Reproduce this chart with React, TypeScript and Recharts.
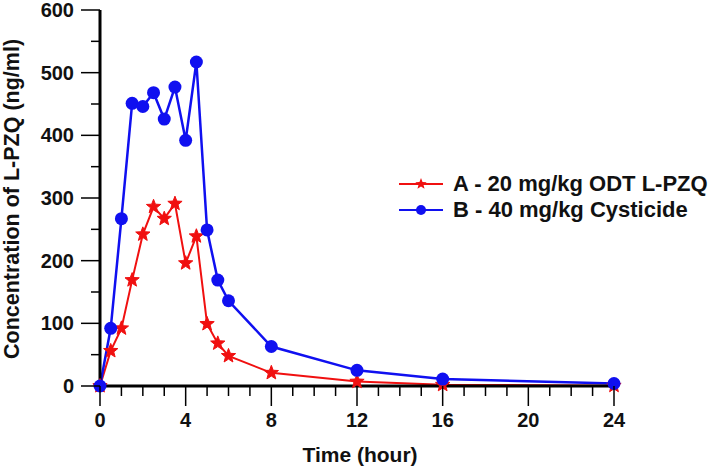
import { LineChart, Line, XAxis, YAxis, Legend } from "recharts";

const TIME = [0, 0.5, 1, 1.5, 2, 2.5, 3, 3.5, 4, 4.5, 5, 5.5, 6, 8, 12, 16, 24];
const ODT_A = [0, 56, 92, 169, 242, 286, 267, 291, 196, 239, 99, 68, 48, 21, 7, 2, 0.5];
const CYST_B = [0, 92, 267, 451, 446, 468, 426, 477, 392, 517, 249, 169, 136, 63, 25, 11, 4];

const X_TICKS = [0, 1, 2, 3, 4, 5, 6, 7, 8, 9, 10, 11, 12, 13, 14, 15, 16, 17, 18, 19, 20, 21, 22, 23, 24];
const X_LABELS = [0, 4, 8, 12, 16, 20, 24];
const Y_TICKS = [0, 50, 100, 150, 200, 250, 300, 350, 400, 450, 500, 550, 600];
const Y_LABELS = [0, 100, 200, 300, 400, 500, 600];

const NAME_A = "A - 20 mg/kg ODT L-PZQ";
const NAME_B = "B - 40 mg/kg Cysticide";

const RED = "#f01010";
const BLUE = "#1010f0";
const FONT = "'Liberation Sans', Arial, sans-serif";

const data = TIME.map((t, i) => ({ t, a: ODT_A[i], b: CYST_B[i] }));

function starPath(cx: number, cy: number, ro: number, ri: number) {
  let d = "";
  for (let k = 0; k < 10; k++) {
    const r = k % 2 === 0 ? ro : ri;
    const ang = -Math.PI / 2 + (k * Math.PI) / 5;
    d += (k === 0 ? "M" : "L") + (cx + r * Math.cos(ang)).toFixed(2) + "," + (cy + r * Math.sin(ang)).toFixed(2);
  }
  return d + "Z";
}

const StarDot = (p: any) => {
  if (p.cx == null || p.cy == null) return <g key={`s-${p.index}`} />;
  return <path key={`s-${p.index}`} d={starPath(p.cx, p.cy, 7.5, 3.2)} fill={RED} stroke={RED} strokeWidth={1} />;
};

const XTick = (p: any) => {
  const { x, y, payload } = p;
  const major = X_LABELS.includes(payload.value);
  return (
    <g>
      <line x1={x} x2={x} y1={y} y2={y + (major ? 20 : 10)} stroke="#000" strokeWidth={1.5} />
      {major && (
        <text x={x} y={y + 41} textAnchor="middle" fontSize={20} fontWeight="bold" fontFamily={FONT} fill="#111">
          {payload.value}
        </text>
      )}
    </g>
  );
};

const YTick = (p: any) => {
  const { x, y, payload } = p;
  const major = Y_LABELS.includes(payload.value);
  return (
    <g>
      <line x1={x} x2={x - (major ? 19 : 9)} y1={y} y2={y} stroke="#000" strokeWidth={1.5} />
      {major && (
        <text x={x - 26} y={y + 7} textAnchor="end" fontSize={20} fontWeight="bold" fontFamily={FONT} fill="#111">
          {payload.value}
        </text>
      )}
    </g>
  );
};

const renderLegend = () => {
  const rows = [
    { name: NAME_A, color: RED, star: true },
    { name: NAME_B, color: BLUE, star: false },
  ];
  return (
    <div>
      {rows.map((r) => (
        <div key={r.name} style={{ display: "flex", alignItems: "center", height: 26 }}>
          <svg width={44} height={20} style={{ marginRight: 10 }}>
            <line x1={0} x2={44} y1={10} y2={10} stroke={r.color} strokeWidth={2} />
            {r.star ? (
              <path d={starPath(22, 10, 6, 2.6)} fill={r.color} />
            ) : (
              <circle cx={22} cy={10} r={5} fill={r.color} />
            )}
          </svg>
          <span style={{ fontFamily: FONT, fontWeight: "bold", fontSize: 22, color: "#111", whiteSpace: "nowrap" }}>
            {r.name}
          </span>
        </div>
      ))}
    </div>
  );
};

export default function App() {
  return (
    <div style={{ position: "absolute", left: 0, top: 0, background: "#fff" }}>
      <LineChart width={709} height={468} data={data} margin={{ top: 10, right: 95, left: 0, bottom: 0 }}>
        <XAxis
          dataKey="t"
          type="number"
          domain={[0, 24]}
          ticks={X_TICKS}
          interval={0}
          tickSize={0}
          tickMargin={0}
          tickLine={false}
          tick={<XTick />}
          height={82}
          axisLine={{ stroke: "#000", strokeWidth: 3 }}
          label={{
            content: () => (
              <text x={360} y={462} textAnchor="middle" fontSize={21} fontWeight="bold" fontFamily={FONT} fill="#111">
                Time (hour)
              </text>
            ),
          }}
        />
        <YAxis
          type="number"
          domain={[0, 600]}
          ticks={Y_TICKS}
          interval={0}
          tickSize={0}
          tickMargin={0}
          tickLine={false}
          tick={<YTick />}
          width={100}
          axisLine={{ stroke: "#000", strokeWidth: 3 }}
          label={{
            content: () => (
              <text
                transform="translate(19,199) rotate(-90)"
                textAnchor="middle"
                fontSize={21.5}
                fontWeight="bold"
                fontFamily={FONT}
                fill="#111"
              >
                Concentration of L-PZQ (ng/ml)
              </text>
            ),
          }}
        />
        <Legend
          layout="vertical"
          align="center"
          verticalAlign="middle"
          content={renderLegend}
          wrapperStyle={{ left: 399, top: 171, width: 320 }}
        />
        <Line
          dataKey="a"
          name={NAME_A}
          stroke={RED}
          strokeWidth={2}
          dot={(p: any) => <StarDot key={`a-${p.index}`} {...p} />}
          isAnimationActive={false}
        />
        <Line
          dataKey="b"
          name={NAME_B}
          stroke={BLUE}
          strokeWidth={2.5}
          dot={{ r: 6.5, fill: BLUE, stroke: BLUE, strokeWidth: 0 }}
          isAnimationActive={false}
        />
      </LineChart>
    </div>
  );
}
